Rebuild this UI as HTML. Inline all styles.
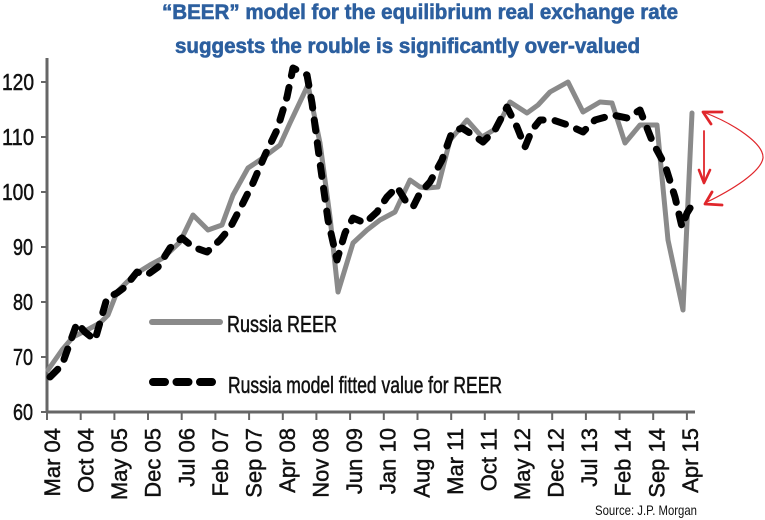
<!DOCTYPE html>
<html><head><meta charset="utf-8"><style>
html,body{margin:0;padding:0;background:#fff;}
svg{display:block;}
</style></head><body>
<svg width="765" height="520" viewBox="0 0 765 520" xmlns="http://www.w3.org/2000/svg">
<rect width="765" height="520" fill="#fff"/>
<!-- Title -->
<g font-family="Liberation Sans, Arial, sans-serif" font-weight="bold" font-size="21" fill="#2c5f9f" stroke="#2c5f9f" stroke-width="0.6">
<text x="162" y="19" textLength="516" lengthAdjust="spacingAndGlyphs">“BEER” model for the equilibrium real exchange rate</text>
<text x="175" y="53" textLength="465" lengthAdjust="spacingAndGlyphs">suggests the rouble is significantly over-valued</text>
</g>
<!-- Axes -->
<g stroke="#666" stroke-width="3" fill="none">
<line x1="47" y1="58" x2="47" y2="413"/>
<line x1="46" y1="412" x2="695" y2="412"/>
</g>
<g stroke="#666" stroke-width="2">
<line x1="41" y1="82" x2="47" y2="82"/>
<line x1="41" y1="137" x2="47" y2="137"/>
<line x1="41" y1="192" x2="47" y2="192"/>
<line x1="41" y1="247" x2="47" y2="247"/>
<line x1="41" y1="302" x2="47" y2="302"/>
<line x1="41" y1="357" x2="47" y2="357"/>
<line x1="41" y1="412" x2="47" y2="412"/>
<line x1="47.0" y1="412" x2="47.0" y2="420"/>
<line x1="80.7" y1="412" x2="80.7" y2="420"/>
<line x1="114.4" y1="412" x2="114.4" y2="420"/>
<line x1="148.0" y1="412" x2="148.0" y2="420"/>
<line x1="181.7" y1="412" x2="181.7" y2="420"/>
<line x1="215.4" y1="412" x2="215.4" y2="420"/>
<line x1="249.1" y1="412" x2="249.1" y2="420"/>
<line x1="282.8" y1="412" x2="282.8" y2="420"/>
<line x1="316.4" y1="412" x2="316.4" y2="420"/>
<line x1="350.1" y1="412" x2="350.1" y2="420"/>
<line x1="383.8" y1="412" x2="383.8" y2="420"/>
<line x1="417.5" y1="412" x2="417.5" y2="420"/>
<line x1="451.2" y1="412" x2="451.2" y2="420"/>
<line x1="484.8" y1="412" x2="484.8" y2="420"/>
<line x1="518.5" y1="412" x2="518.5" y2="420"/>
<line x1="552.2" y1="412" x2="552.2" y2="420"/>
<line x1="585.9" y1="412" x2="585.9" y2="420"/>
<line x1="619.6" y1="412" x2="619.6" y2="420"/>
<line x1="653.2" y1="412" x2="653.2" y2="420"/>
<line x1="686.9" y1="412" x2="686.9" y2="420"/>
</g>
<!-- Y labels -->
<g font-family="Liberation Sans, Arial, sans-serif" font-size="23" fill="#111" stroke="#111" stroke-width="0.5" text-anchor="end">
<text x="34" y="90" textLength="32" lengthAdjust="spacingAndGlyphs">120</text>
<text x="34" y="145" textLength="32" lengthAdjust="spacingAndGlyphs">110</text>
<text x="34" y="200" textLength="32" lengthAdjust="spacingAndGlyphs">100</text>
<text x="33" y="255" textLength="20" lengthAdjust="spacingAndGlyphs">90</text>
<text x="33" y="310" textLength="20" lengthAdjust="spacingAndGlyphs">80</text>
<text x="33" y="365" textLength="20" lengthAdjust="spacingAndGlyphs">70</text>
<text x="33" y="420" textLength="20" lengthAdjust="spacingAndGlyphs">60</text>
</g>
<!-- X labels -->
<g font-family="Liberation Sans, Arial, sans-serif" font-size="22" fill="#111" stroke="#111" stroke-width="0.45" text-anchor="end">
<text transform="translate(60,428) rotate(-90)">Mar 04</text>
<text transform="translate(93.6,428) rotate(-90)">Oct 04</text>
<text transform="translate(127.1,428) rotate(-90)">May 05</text>
<text transform="translate(160.7,428) rotate(-90)">Dec 05</text>
<text transform="translate(194.3,428) rotate(-90)">Jul 06</text>
<text transform="translate(227.9,428) rotate(-90)">Feb 07</text>
<text transform="translate(261.4,428) rotate(-90)">Sep 07</text>
<text transform="translate(295,428) rotate(-90)">Apr 08</text>
<text transform="translate(328.6,428) rotate(-90)">Nov 08</text>
<text transform="translate(362.1,428) rotate(-90)">Jun 09</text>
<text transform="translate(395.7,428) rotate(-90)">Jan 10</text>
<text transform="translate(429.3,428) rotate(-90)">Aug 10</text>
<text transform="translate(462.8,428) rotate(-90)">Mar 11</text>
<text transform="translate(496.4,428) rotate(-90)">Oct 11</text>
<text transform="translate(530,428) rotate(-90)">May 12</text>
<text transform="translate(563.6,428) rotate(-90)">Dec 12</text>
<text transform="translate(597.1,428) rotate(-90)">Jul 13</text>
<text transform="translate(630.7,428) rotate(-90)">Feb 14</text>
<text transform="translate(664.3,428) rotate(-90)">Sep 14</text>
<text transform="translate(697.8,428) rotate(-90)">Apr 15</text>
</g>
<text x="595" y="515" font-family="Liberation Sans, Arial, sans-serif" font-size="14" fill="#111" textLength="102" lengthAdjust="spacingAndGlyphs">Source: J.P. Morgan</text>
<!-- Series: Russia REER -->
<polyline fill="none" stroke="#8a8a8a" stroke-width="5" stroke-linejoin="round" stroke-linecap="round" points="48,370 62,350 73,337 87,330 100,323 108,315 117,292 127,282 137,273 150,265 163,258 180,242 193,215 208,230 222,225 233,195 248,168 260,160 280,145 290,123 308,85 320,143 330,217 338,292 353,243 367,230 380,220 395,212 410,180 420,187 427,188 438,187 450,140 467,120 482,137 497,128 510,102 527,113 538,105 550,92 568,82 583,112 600,102 612,103 625,143 640,125 657,125 668,240 683,310 692,113"/>
<!-- Series: model fitted -->
<polyline fill="none" stroke="#000" stroke-width="7" stroke-linejoin="round" stroke-linecap="round" stroke-dasharray="11 12" points="50,377 62,365 77,323 85,332 95,340 107,298 117,293 125,287 137,272 147,275 158,267 170,248 182,238 193,247 207,252 220,240 230,228 243,203 253,183 265,155 277,130 287,97 293,68 307,75 312,103 320,163 328,220 337,260 345,233 353,218 365,223 377,212 387,197 397,187 405,200 413,207 420,193 430,182 442,160 452,132 462,128 473,135 483,142 495,130 507,107 517,127 525,147 532,130 540,120 553,120 568,125 583,132 595,120 613,115 627,118 640,110 645,123 653,143 665,165 675,197 682,227 687,213 692,205"/>
<!-- Legend -->
<line x1="152" y1="322" x2="220" y2="322" stroke="#8a8a8a" stroke-width="6" stroke-linecap="round"/>
<line x1="153" y1="382" x2="214" y2="382" stroke="#000" stroke-width="8" stroke-linecap="round" stroke-dasharray="12 11.5"/>
<g font-family="Liberation Sans, Arial, sans-serif" font-size="23" fill="#111" stroke="#111" stroke-width="0.5">
<text x="227" y="332" textLength="110" lengthAdjust="spacingAndGlyphs">Russia REER</text>
<text x="228" y="393" textLength="274" lengthAdjust="spacingAndGlyphs">Russia model fitted value for REER</text>
</g>
<!-- Red annotation -->
<g fill="none" stroke="#e0262b" stroke-linecap="round" stroke-linejoin="round">
<path d="M703,112 C735,124 764,144 763,158 C761,172 732,190 705,203" stroke-width="1.2"/>
<polyline points="722,112 703,112 711,124" stroke-width="2.8"/>
<polyline points="722,205 705,204 712,192" stroke-width="2.8"/>
<line x1="704" y1="131" x2="704" y2="182" stroke-width="1.8"/>
<polyline points="699,170 704,183 710,170" stroke-width="2.6"/>
</g>
</svg>
</body></html>
